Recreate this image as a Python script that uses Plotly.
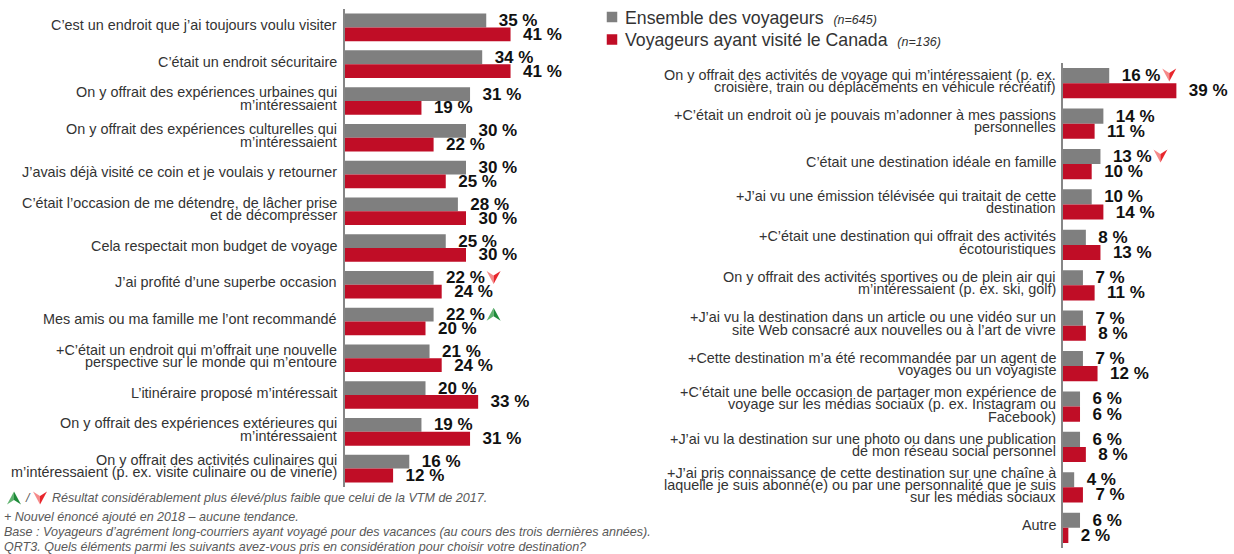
import plotly.graph_objects as go

# Motivation statements, top to bottom, one list per column
left_categories = [
    "C’est un endroit que j’ai toujours voulu visiter",
    "C’était un endroit sécuritaire",
    "On y offrait des expériences urbaines qui\nm’intéressaient",
    "On y offrait des expériences culturelles qui\nm’intéressaient",
    "J’avais déjà visité ce coin et je voulais y retourner",
    "C’était l’occasion de me détendre, de lâcher prise\net de décompresser",
    "Cela respectait mon budget de voyage",
    "J’ai profité d’une superbe occasion",
    "Mes amis ou ma famille me l’ont recommandé",
    "+C’était un endroit qui m’offrait une nouvelle\nperspective sur le monde qui m’entoure",
    "L’itinéraire proposé m’intéressait",
    "On y offrait des expériences extérieures qui\nm’intéressaient",
    "On y offrait des activités culinaires qui\nm’intéressaient (p. ex. visite culinaire ou de vinerie)",
]
left_all = [35, 34, 31, 30, 30, 28, 25, 22, 22, 21, 20, 19, 16]
left_canada = [41, 41, 19, 22, 25, 30, 30, 24, 20, 24, 33, 31, 12]
left_flags = {7: "down", 8: "up"}

right_categories = [
    "On y offrait des activités de voyage qui m’intéressaient (p. ex.\ncroisière, train ou déplacements en véhicule récréatif)",
    "+C’était un endroit où je pouvais m’adonner à mes passions\npersonnelles",
    "C’était une destination idéale en famille",
    "+J’ai vu une émission télévisée qui traitait de cette\ndestination",
    "+C’était une destination qui offrait des activités\nécotouristiques",
    "On y offrait des activités sportives ou de plein air qui\nm’intéressaient (p. ex. ski, golf)",
    "+J’ai vu la destination dans un article ou une vidéo sur un\nsite Web consacré aux nouvelles ou à l’art de vivre",
    "+Cette destination m’a été recommandée par un agent de\nvoyages ou un voyagiste",
    "+C’était une belle occasion de partager mon expérience de\nvoyage sur les médias sociaux (p. ex. Instagram ou\nFacebook)",
    "+J’ai vu la destination sur une photo ou dans une publication\nde mon réseau social personnel",
    "+J’ai pris connaissance de cette destination sur une chaîne à\nlaquelle je suis abonné(e) ou par une personnalité que je suis\nsur les médias sociaux",
    "Autre",
]
right_all = [16, 14, 13, 10, 8, 7, 7, 7, 6, 6, 4, 6]
right_canada = [39, 11, 10, 14, 13, 11, 8, 12, 6, 8, 7, 2]
right_flags = {0: "down", 2: "down"}

series_names = ["Ensemble des voyageurs", "Voyageurs ayant visité le Canada"]
series_bases = ["(n=645)", "(n=136)"]

footnotes = [
    (51, 498, "Résultat considérablement plus élevé/plus faible que celui de la VTM de 2017."),
    (3, 517, "+ Nouvel énoncé ajouté en 2018 – aucune tendance."),
    (3, 532, "Base : Voyageurs d’agrément long-courriers ayant voyagé pour des vacances (au cours des trois dernières années)."),
    (3, 547, "QRT3. Quels éléments parmi les suivants avez-vous pris en considération pour choisir votre destination?"),
]

W, H = 1234, 554
GRAY, RED = "#7f7f7f", "#c00d26"
UP_LIGHT, UP_DARK = "#5fb36f", "#1f8a3a"
DOWN_LIGHT, DOWN_DARK = "#f58a8a", "#e8262c"
FONT = "Liberation Sans"
LINE_STEP = 12.3
FLAG_GAP_PX = 60

fig = go.Figure()


def add_flag(x, y, xref, yref, direction):
    """Two-tone notched arrow, sized in pixels and anchored on axis values."""
    sign = -1 if direction == "up" else 1
    light, dark = (UP_LIGHT, UP_DARK) if direction == "up" else (DOWN_LIGHT, DOWN_DARK)
    # Plotly's pixel-sized paths use y upward, hence the flipped sign
    tip, wing, notch = -6.5 * sign, 6.5 * sign, 2 * sign
    for side, color in ((-7, light), (7, dark)):
        fig.add_shape(
            type="path", xref=xref, yref=yref, xsizemode="pixel", ysizemode="pixel",
            xanchor=x, yanchor=y, line=dict(width=0), fillcolor=color, layer="above",
            path=f"M 0 {tip} L {side} {wing} L 0 {notch} Z",
        )


def add_panel(cats, all_vals, can_vals, flags, xname, yname, x0, x1, top, bottom, label_right):
    rows = list(range(len(cats)))
    xa, ya = xname.replace("axis", ""), yname.replace("axis", "")
    for vals, color, name in ((all_vals, GRAY, series_names[0]), (can_vals, RED, series_names[1])):
        fig.add_trace(go.Bar(
            y=rows, x=vals, orientation="h", name=name, showlegend=False,
            marker=dict(color=color, line=dict(width=0)),
            text=[f"\u00a0\u00a0{v}\u00a0%" for v in vals],
            textposition="outside", cliponaxis=False, constraintext="none",
            textfont=dict(family=FONT, size=17, color="#111111", weight="bold"),
            xaxis=xa, yaxis=ya, hovertext=[c.replace("\n", " ") for c in cats], hoverinfo="text+x",
        ))
    fig.update_layout({
        xname: dict(domain=[x0 / W, x1 / W], range=[0, 50], visible=False, anchor=ya),
        yname: dict(domain=[1 - bottom / H, 1 - top / H], range=[len(cats) - 0.5, -0.5],
                    showgrid=False, zeroline=False, showticklabels=False, ticks="",
                    showline=True, linecolor="#868686", linewidth=2, anchor=xa),
    })

    # Each wrapped line is placed on its own so the leading stays tight
    px_per_unit = (x1 - x0) / 50
    for row, cat in zip(rows, cats):
        lines = cat.split("\n")
        for i, line in enumerate(lines):
            fig.add_annotation(
                x=label_right / W, xref="paper", y=row, yref=ya,
                text=line, showarrow=False, xanchor="right", yanchor="middle",
                yshift=2.3 - (i - (len(lines) - 1) / 2) * LINE_STEP,
                font=dict(family=FONT, size=14.4, color="#333333"), borderpad=0,
            )

    # Significance arrows sit on the first series' row, just past its label
    for row, direction in flags.items():
        add_flag(all_vals[row] + FLAG_GAP_PX / px_per_unit, row - 0.2, xa, ya, direction)


add_panel(left_categories, left_all, left_canada, left_flags, "xaxis", "yaxis", 344.5, 547, 9, 487, 338)
add_panel(right_categories, right_all, right_canada, right_flags, "xaxis2", "yaxis2", 1062.5, 1208.5, 63, 548, 1057)

# Pixel-scaled overlay for the legend swatches and the footnote arrows
fig.update_layout(
    xaxis3=dict(domain=[0, 1], range=[0, W], visible=False, anchor="y3"),
    yaxis3=dict(domain=[0, 1], range=[H, 0], visible=False, anchor="x3"),
)
fig.add_trace(go.Scatter(
    x=[612, 612], y=[17, 39.5], mode="markers", xaxis="x3", yaxis="y3", showlegend=False, hoverinfo="skip",
    marker=dict(symbol="square", size=10.5, color=[GRAY, RED], line=dict(width=0)),
))
add_flag(14, 498, "x3", "y3", "up")
add_flag(40, 498, "x3", "y3", "down")

# Legend text
for y_px, name, base in zip((18, 40), series_names, series_bases):
    fig.add_annotation(
        x=623.5 / W, xref="paper", y=1 - y_px / H, yref="paper", showarrow=False,
        xanchor="left", yanchor="middle", borderpad=0,
        text=f"{name}\u00a0 <i><span style='font-size:12.5px'>{base}</span></i>",
        font=dict(family=FONT, size=17.7, color="#333333"),
    )

# Footnotes
fig.add_annotation(
    x=28 / W, xref="paper", y=1 - 498 / H, yref="paper", showarrow=False, borderpad=0,
    xanchor="center", yanchor="middle",
    text="<i>/</i>", font=dict(family=FONT, size=12.5, color="#595959"),
)
for x_px, y_px, text in footnotes:
    fig.add_annotation(
        x=x_px / W, xref="paper", y=1 - y_px / H, yref="paper", showarrow=False,
        xanchor="left", yanchor="middle", borderpad=0,
        text=f"<i>{text}</i>", font=dict(family=FONT, size=12.55, color="#595959"),
    )

fig.update_layout(
    width=W, height=H, margin=dict(l=0, r=0, t=0, b=0),
    paper_bgcolor="white", plot_bgcolor="rgba(0,0,0,0)",
    barmode="group", bargap=0.25, bargroupgap=0, showlegend=False,
    font=dict(family=FONT),
)

fig.write_html("out.html")
